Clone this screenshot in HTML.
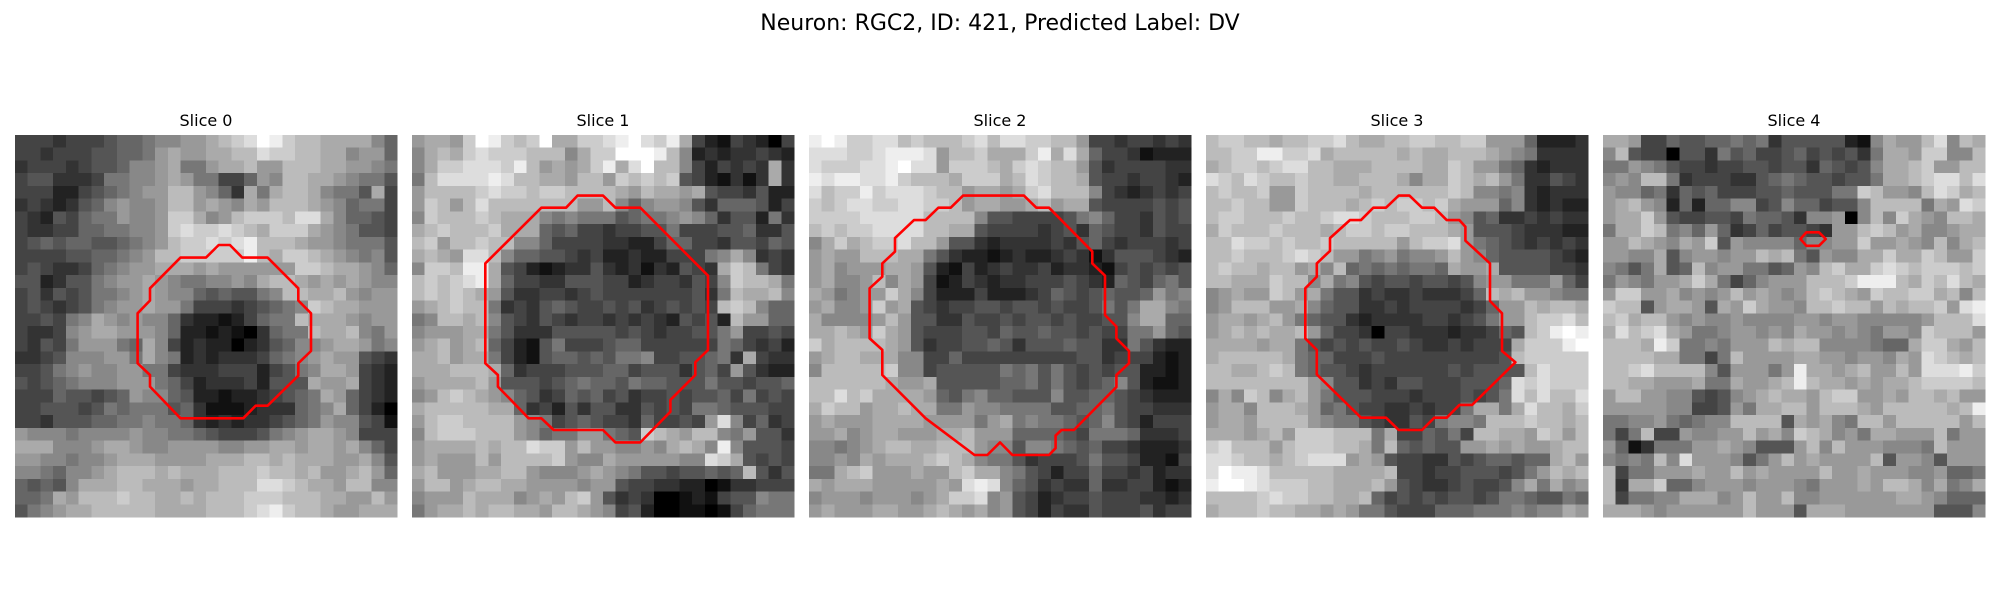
<!DOCTYPE html>
<html><head><meta charset="utf-8"><style>
html,body{margin:0;padding:0;background:#fff;}
svg{display:block;font-family:"DejaVu Sans","Liberation Sans",sans-serif;}
</style></head><body>
<svg id="fig" width="2000" height="600" viewBox="0 0 2000 600" xmlns="http://www.w3.org/2000/svg">
<rect width="2000" height="600" fill="#fff"/>
<text x="1000" y="30" font-size="22" text-anchor="middle" fill="#000">Neuron: RGC2, ID: 421, Predicted Label: DV</text>
</svg>
<script>
const sliceTitles = ["Slice 0","Slice 1","Slice 2","Slice 3","Slice 4"];
const slice0 = [
"44434 44566 78899 abcdf ecbba aaa86","44344 45566 79a99 aabbd ccbba a8996","34443 45568 89a77 9aab9 9bbba a9987",
"45533 34778 89a97 74469 8bbaa 98775","44422 45678 99bb9 863a7 abba8 775a4","34323 56898 89bb9 a98a9 bbba9 86774",
"43254 67798 89cca 89bcc cbdda 86654","43344 66778 89cdc cdcba ccca9 87554","45656 65567 89bcc dcdeb bba99 87775",
"44445 56678 9bbcc ccceb accba 98785","45433 46789 9aaa9 a9999 99ccb aa986","55235 57899 a9877 8898a bba9a 9a988",
"45354 57789 a9886 56557 8bbaa b9899","45434 57899 a9974 44345 678cb aa999","44547 8a989 88632 21246 77baa a9899",
"43348 9aa99 98622 12103 677ba ab879","43547 99976 a8423 22023 56889 aa978","33458 88997 a8723 23334 6789a 99543",
"44578 98899 77433 34442 4578a a9432","54567 88899 97642 33342 555a9 9a432","44465 54569 88652 21223 4567a 96432",
"44555 45767 77563 11123 33678 a6420","44355 56677 87763 23233 45679 88541","98887 88889 88776 54445 789aa 98444",
"aaa88 89aa9 88999 98899 aa9aa 9a864","99887 889aa a9999 aaabb abaaa 99a85","88768 89abb babaa abbbc bbab9 9ab96",
"65658 aaabb aaa9a abbbd dcbaa 9bb88","667a9 bbbcb baaba bbbcc cbbba a99b9","5789a abbbb baaaa bbbcd ecbba 99aaa"];
const slice1 = [
"9aa9c fecbc faacc defdc ea421 43204","8abac dcccb bb8ac cfffe b8232 33432","8accd ddceb 9a9ac eadfb b8424 343a3",
"7bddd dedbb aa9bb 9cbcb c5421 313a3","9bbbb cdccb ccbbb ba9ba a9a54 43522","9cb9b dbbbb bbb99 b8689 98536 66524",
"8cbbb cbaaa 87877 75677 89863 55273","abcbb bcaaa 65644 34455 74445 56335","bc9bb cbb88 64444 33224 66443 55465",
"aba9d db866 55434 22322 44478 a8343","8ccbe ea542 12335 32313 2543a cb743","bcbcd ea644 33555 44234 43548 cbba7",
"bcbcb a9533 44345 44444 44537 baab8","9abcb b7343 56544 54534 5454b cb866","78bba b8543 54344 34343 25452 b9966",
"8999a a7533 35555 54543 44557 94454","9ab9a b6421 57444 56644 44447 64342","aab9a a7421 56656 57784 45567 3a433",
"aaabb ba634 44555 66455 53564 95322","9aaaa b9555 45676 65766 55575 54556","89bcb a9865 34656 45344 54556 47454",
"abbbb baa63 42535 53354 54776 55544","9bccb bbb98 74565 44364 4549d 84634","8bccc bbb98 67799 765cb a9bb8 79553",
"9aaaa babbd cc9b9 98898 aba8e 85554","9a999 b9bbb bc988 a9999 988dc a5454","ab999 aabb9 8889a 98755 45565 6b535",
"9bb9a bbaa9 99989 95443 32201 33444","8999b aaa89 a9bc9 53430 01214 55877","79aab abbaa 9bba9 84520 01101 46777"];
const slice2 = [
"efecc ddbcb bbcdb ddccb b9443 44343","dddcc deeed 9bbca aacea da644 31222","dcccd defdd 9cccb acdcb b9534 44433",
"edeed decbb baccc abdcb ba544 34432","dbcce cdddc bb9aa 9acdb bb843 23434","cbcdd ccddc cb9aa 99ab9 aa544 44545",
"ccccd ddddb bbb85 54444 57864 43545","bcbcc ddddb baa54 44434 53654 43544","8acab ccdbb 95532 33334 35643 44434",
"9a99b bbaa7 53221 23223 43135 55432","9a899 9aa95 21423 43342 33214 54545","9a889 b8a94 12432 33444 54326 54675",
"a9789 9ca84 22242 22346 54565 56978","9a889 c9a54 34455 45545 44575 7aa87","a8888 9b955 33544 54554 54455 8aa66",
"aaba9 ca954 44554 65565 54544 77965","cabbb ba953 44556 53555 65533 75322","9abba aa884 46444 44444 45534 44212",
"8bbbb bc884 55555 76757 54545 52212","bbbbb ba99a 55555 66757 54568 52112","bbdbc aaaa9 65786 65558 55665 43222",
"acbb9 aabaa 77988 77775 56675 44333","9a999 aaaa9 99979 a7877 65685 42444","99a89 aa999 aab99 96666 54777 63334",
"88789 abbaa bbb98 85887 65644 32223","8898a 9aaab cba87 75344 45755 42214","77abc 999a9 9bcaa 87542 44644 34233",
"a9aaa 99999 a9ded 86534 33633 44212","89998 99989 accd8 95423 44544 43323","9a999 aa99a ba9a8 95424 33544 45344"];
const slice3 = [
"bccbb abbcc dbaab bccbb cc999 62223","bbcce eccda bbbbb abaab bba98 73333","abccb cddbb aaabb bbaac b9976 32333",
"dcbdc bbcbb aabbb a8aac bab97 33543","bcbbc 99cbb bbabb bbbbc b8878 32333","bbcbb 99cbb babcb ccbca 99968 32322",
"bccbb bcbbc ddcbb bccb9 85633 43433","acbbb cbbba bccbc cbbba 95554 33322","bbdcc bcbbc bbbbb 9bccd 97654 34343",
"bbcbb bcdcb 99789 7889b 98655 55432","bcbba bb9a8 b6767 6776a 99a55 55443","bbaaa cbb8a 78545 54554 58997 77964",
"89a99 cb9a7 55343 34333 46bab 99877","89bbb 99a86 55334 34444 34699 babba","9aa9a b9765 53233 33443 45799 bccdb",
"9abab aab96 44304 43332 33465 bcefe","aaaa9 aa754 54544 54334 3444a cccef","abbbb ba766 44454 44444 4445b ccccc",
"bbaab cb765 54344 44445 45555 bdccc","bbbbb bbb98 55343 55444 5556d cdccc","8a8cb 8ab97 55544 43444 5457d bdbbd",
"9aa8b bba96 75443 34344 7aa7a dbbac","9aa9b bbb98 77543 35478 87bbb cbbab","aaa9a b9ccc bbb7a 44657 4bbaa 9cb9b",
"cdbbb 9bccc bba7b 65655 99a9a 99abb","ddcbb abcdd d9a95 44335 45665 66ab9","dfeed bbbbb aaaab 44344 55545 79bab",
"effed cccbb aaab9 54334 54458 a7a89","bbbbc dccbb aab64 54545 54577 65576","abbbc bbaa9 a9775 44466 67778 788a9"];
const slice4 = [
"aa944 65566 76735 55552 18a99 bd8ba","8b544 05537 56445 64545 37aa9 cc88b","77987 54434 45545 53654 58aab c99bb",
"898bb 73444 33567 65545 57aab cddbd","98867 36564 44556 55577 cb998 bdcab","9ab98 26266 88458 66455 8bbbb 7a9dc",
"9aac9 54455 47665 38890 8b8ca 98bba","7aacb 78696 34645 54399 bcb9a 889aa","99ba9 8a9c5 98888 68899 c99a9 8b8ab",
"9988a 58998 99bab 75988 aacaa cb99c","8757a 56b89 97756 98bca acdcb cccbc","79879 9aca7 46899 9bbbc eeeba cbdba",
"9cc99 a8989 b9a98 9bcba 9cbbc cab8b","cbb59 aa95a 9ca99 8bbcb b9bab bc9de","bcabb 98988 98888 99899 88888 9bbbd",
"adbcd a9778 99898 a9989 87998 cbbb9","bbbae c7787 999ba bb888 8766a cca9b","bbbba a7747 b9999 aa998 998a9 dcbab",
"bbcdb bbb85 99979 eaa9a b99b9 dddec","bbaa9 99a77 a99ab ebaa9 a9aab ccccb","9bb99 88545 89aba a9bcc 99a9b bab99",
"99999 88445 97aab b9bbb a9bbb bbabe","77889 76788 bbbb5 a9a87 bb9bb bbb9b","747b4 49889 9b9a8 cba89 7aa99 9b799",
"96137 7799a 98555 9b8b9 99888 7b999","8787b 8d999 8579b 9a999 9b599 85999","b4779 99a99 b9a99 99b99 a9998 89667",
"b3aac 66899 98999 87999 a9bba 8a78a","b4778 8aaa8 9b99b 88999 999aa 98666","aaa98 99999 9b999 5aaa9 99999 95558"];
const contour0 = [[16.0,8.64],[16.88,8.64],[17.85,9.63],[19.84,9.63],[22.25,12.04],[22.25,13.0],[23.25,14.0],[23.25,16.96],[22.25,17.93],[22.25,18.9],[19.84,21.26],[18.9,21.26],[17.93,22.25],[13.0,22.25],[10.6,19.76],[10.6,18.85],[9.63,17.93],[9.63,14.0],[10.6,13.0],[10.6,12.04],[13.0,9.63],[15.0,9.63]];
const contour1 = [[13.0,4.76],[15.0,4.76],[15.97,5.71],[17.93,5.71],[23.25,11.05],[23.25,16.88],[22.25,17.85],[22.25,18.85],[20.29,20.8],[20.29,21.73],[17.93,24.14],[15.97,24.14],[15.0,23.17],[11.13,23.17],[10.16,22.25],[9.16,22.25],[6.75,19.76],[6.75,18.85],[5.76,17.93],[5.76,10.08],[10.16,5.71],[12.1,5.71]];
const contour2 = [[12.1,4.76],[16.88,4.76],[17.85,5.71],[18.85,5.71],[22.25,9.16],[22.25,10.08],[23.25,11.05],[23.25,14.14],[24.14,15.05],[24.14,15.97],[25.13,16.96],[25.13,17.93],[24.14,18.85],[24.14,19.8],[20.8,23.17],[19.84,23.17],[19.37,23.6],[19.37,24.6],[18.85,25.13],[15.97,25.13],[15.0,24.14],[14.0,25.13],[13.0,25.13],[9.16,22.25],[5.76,18.85],[5.76,16.88],[4.76,15.97],[4.76,12.04],[5.76,11.13],[5.76,10.08],[6.75,9.16],[6.75,8.1],[8.25,6.68],[9.16,6.68],[10.16,5.71],[11.13,5.71]];
const contour3 = [[15.13,4.76],[15.97,4.76],[16.96,5.71],[17.93,5.71],[18.9,6.68],[19.9,6.68],[20.37,7.2],[20.37,8.3],[22.3,10.08],[22.3,13.04],[23.25,14.0],[23.25,16.96],[24.3,17.85],[20.9,21.2],[19.9,21.2],[18.9,22.2],[17.93,22.2],[16.96,23.17],[15.13,23.17],[14.14,22.2],[12.17,22.2],[8.7,18.8],[8.7,16.88],[7.8,15.97],[7.8,12.04],[8.7,11.13],[8.7,10.08],[9.74,9.1],[9.74,8.1],[11.3,6.68],[12.17,6.68],[13.14,5.71],[14.14,5.71]];
const contour4 = [[15.97,7.64],[16.96,7.64],[17.5,8.17],[16.96,8.7],[15.97,8.7],[15.5,8.17]];

const slices = [slice0, slice1, slice2, slice3, slice4];
const contours = [contour0, contour1, contour2, contour3, contour4];
const NS = "http://www.w3.org/2000/svg";
const svg = document.getElementById('fig');
const N = 30, PW = 382, PX0 = 15, GAP = 397, PY0 = 135;
const cell = PW / N;
function xScale(p, c) { return PX0 + p * GAP + c * cell; }
function yScale(r) { return PY0 + r * cell; }
slices.forEach((rows, p) => {
  const g = document.createElementNS(NS, 'g');
  
  
  g.setAttribute('shape-rendering', 'crispEdges');
  rows.forEach((rs, r) => {
    let s = rs.replace(/ /g, '');
    while (s.length < N) s += s[s.length - 1];
    s = s.slice(0, N);
    for (let c = 0; c < N; c++) {
      const v = Math.round(parseInt(s[c], 16) * 17);
      const rect = document.createElementNS(NS, 'rect');
      
      
      rect.setAttribute('x', xScale(p, c).toFixed(2));
      rect.setAttribute('y', yScale(r).toFixed(2));
      rect.setAttribute('width', (cell + 0.6).toFixed(2));
      rect.setAttribute('height', (cell + 0.6).toFixed(2));
      rect.setAttribute('fill', `rgb(${v},${v},${v})`);
      g.appendChild(rect);
    }
  });
  svg.appendChild(g);
  const pl = document.createElementNS(NS, 'polygon');
  
  
  pl.setAttribute('points', contours[p].map(pt => xScale(p, pt[0]).toFixed(1) + ',' + yScale(pt[1]).toFixed(1)).join(' '));
  pl.setAttribute('fill', 'none');
  pl.setAttribute('stroke', '#ff0000');
  pl.setAttribute('stroke-width', '2.6');
  pl.setAttribute('stroke-linejoin', 'round');
  svg.appendChild(pl);
  const t = document.createElementNS(NS, 'text');
  
  
  t.setAttribute('x', (PX0 + p * GAP + PW / 2).toFixed(1));
  t.setAttribute('y', '126');
  t.setAttribute('font-size', '16');
  t.setAttribute('text-anchor', 'middle');
  t.textContent = sliceTitles[p];
  svg.appendChild(t);
});
</script>
</body></html>
